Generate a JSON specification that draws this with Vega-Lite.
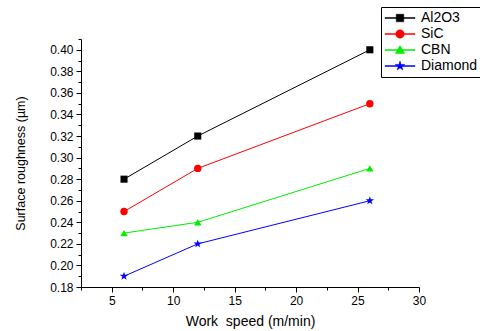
{
  "$schema": "https://vega.github.io/schema/vega-lite/v6.json",
  "width": 338,
  "height": 248,
  "autosize": {"type": "none"},
  "padding": {"left": 81, "top": 39, "right": 61, "bottom": 44},
  "background": "white",
  "config": {
    "view": {"stroke": null},
    "font": "Liberation Sans",
    "axis": {"grid": false, "domainColor": "black", "tickColor": "black", "labelColor": "black", "titleColor": "black", "labelFont": "Liberation Sans", "titleFont": "Liberation Sans", "titleFontWeight": "normal", "labelFontSize": 12, "titleFontSize": 14}
  },
  "data": {"values": [
    {"speed": 6, "ra": 0.28, "grit": "Al2O3"},
    {"speed": 12, "ra": 0.32, "grit": "Al2O3"},
    {"speed": 26, "ra": 0.40, "grit": "Al2O3"},
    {"speed": 6, "ra": 0.25, "grit": "SiC"},
    {"speed": 12, "ra": 0.29, "grit": "SiC"},
    {"speed": 26, "ra": 0.35, "grit": "SiC"},
    {"speed": 6, "ra": 0.23, "grit": "CBN"},
    {"speed": 12, "ra": 0.24, "grit": "CBN"},
    {"speed": 26, "ra": 0.29, "grit": "CBN"},
    {"speed": 6, "ra": 0.19, "grit": "Diamond"},
    {"speed": 12, "ra": 0.22, "grit": "Diamond"},
    {"speed": 26, "ra": 0.26, "grit": "Diamond"}
  ]},
  "encoding": {
    "x": {"field": "speed", "type": "quantitative", "scale": {"domain": [2.5, 30], "nice": false, "zero": false},
      "axis": {"title": "Work\u00a0 speed (m/min)", "values": [2.5, 5, 7.5, 10, 12.5, 15, 17.5, 20, 22.5, 25, 27.5, 30],
        "labelExpr": "datum.value % 5 === 0 ? format(datum.value, 'd') : ''",
        "tickSize": {"condition": {"test": "datum.value % 5 !== 0", "value": 3}, "value": 5},
        "labelPadding": 3, "titlePadding": 8, "labelFlush": false}},
    "y": {"field": "ra", "type": "quantitative", "scale": {"domain": [0.18, 0.41], "nice": false, "zero": false},
      "axis": {"title": "Surface roughness (µm)", "titleFontSize": 12.5, "values": [0.18,0.19,0.2,0.21,0.22,0.23,0.24,0.25,0.26,0.27,0.28,0.29,0.3,0.31,0.32,0.33,0.34,0.35,0.36,0.37,0.38,0.39,0.4,0.41],
        "labelExpr": "round(datum.value*100) % 2 === 1 ? '' : format(datum.value, '.2f')",
        "tickSize": {"condition": {"test": "round(datum.value*100) % 2 === 1", "value": 3}, "value": 5},
        "labelPadding": 3, "titlePadding": 22, "labelFlush": false}},
    "color": {"field": "grit", "type": "nominal",
      "scale": {"domain": ["Al2O3", "SiC", "CBN", "Diamond"], "range": ["#000000", "#ff0000", "#00ee00", "#0000ff"]},
      "legend": {"title": null, "orient": "none", "legendX": 300, "legendY": -32,
         "strokeColor": "black", "padding": 4, "fillColor": "white",
         "labelFont": "Liberation Sans", "labelFontSize": 14, "labelColor": "black",
         "symbolSize": 100, "symbolOffset": 8, "labelOffset": 14, "rowPadding": 2,
         "symbolStrokeWidth": 1,
         "encode": {"symbols": {"update": {
           "shape": {"signal": "datum.value === 'Al2O3' ? 'M-3,-0.1H3V0.1H-3ZM-0.75,-0.75H0.75V0.75H-0.75Z' : datum.value === 'SiC' ? 'M-3,-0.1H3V0.1H-3ZM0.85,0A0.85,0.85,0,1,1,-0.85,0A0.85,0.85,0,1,1,0.85,0Z' : datum.value === 'CBN' ? 'M-3,-0.1H3V0.1H-3ZM0,-0.9L0.95,0.7L-0.95,0.7Z' : 'M-3,-0.1H3V0.1H-3ZM0,-1L0.2245,-0.309L0.951,-0.309L0.363,0.118L0.588,0.809L0,0.382L-0.588,0.809L-0.363,0.118L-0.951,-0.309L-0.2245,-0.309Z'"},
           "fill": {"signal": "datum.value === 'Al2O3' ? '#000000' : datum.value === 'SiC' ? '#ff0000' : datum.value === 'CBN' ? '#00ee00' : '#0000ff'"},
           "stroke": {"signal": "datum.value === 'Al2O3' ? '#000000' : datum.value === 'SiC' ? '#ff0000' : datum.value === 'CBN' ? '#00ee00' : '#0000ff'"},
           "strokeWidth": {"value": 0.5},
           "opacity": {"value": 1}
         }}}}}
  },
  "layer": [
    {"mark": {"type": "line", "strokeWidth": 1}},
    {"transform": [{"filter": "datum.grit === 'Al2O3'"}], "mark": {"type": "point", "filled": true, "size": 50, "opacity": 1, "shape": "square"}},
    {"transform": [{"filter": "datum.grit === 'SiC'"}], "mark": {"type": "point", "filled": true, "size": 55, "opacity": 1, "shape": "circle"}},
    {"transform": [{"filter": "datum.grit === 'CBN'"}], "mark": {"type": "point", "filled": true, "size": 55, "opacity": 1, "shape": "triangle-up"}},
    {"transform": [{"filter": "datum.grit === 'Diamond'"}], "mark": {"type": "point", "filled": true, "size": 80, "opacity": 1, "shape": "M0,-1L0.2245,-0.309L0.951,-0.309L0.363,0.118L0.588,0.809L0,0.382L-0.588,0.809L-0.363,0.118L-0.951,-0.309L-0.2245,-0.309Z"}}
  ]
}
